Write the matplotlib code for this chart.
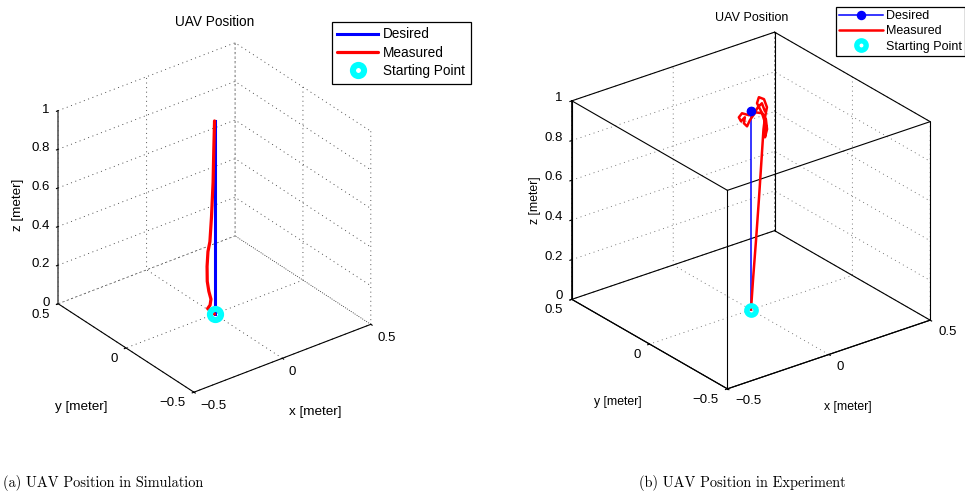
import itertools
import numpy as np
import matplotlib
matplotlib.use("Agg")
import matplotlib.pyplot as plt
from matplotlib.ticker import NullFormatter
from matplotlib.legend_handler import HandlerLine2D
from mpl_toolkits.mplot3d import proj3d

W, H = 965, 503
plt.rcParams["font.family"] = ["Liberation Sans", "DejaVu Sans"]
plt.rcParams["lines.scale_dashes"] = False

# ---- axes ticks -------------------------------------------------------------
x_ticks = [-0.5, 0.0, 0.5]
y_ticks = [-0.5, 0.0, 0.5]
z_ticks = [0.0, 0.2, 0.4, 0.6, 0.8, 1.0]
x_lim = (-0.5, 0.5)
y_lim = (-0.5, 0.5)
z_lim = (0.0, 1.0)

start_point = [0.0, 0.0, 0.0]

# ---- (a) simulation ---------------------------------------------------------
sim_desired_x = [0.0, 0.0]
sim_desired_y = [0.0, 0.0]
sim_desired_z = [0.0, 1.0]

sim_measured_x = [0.000, -0.039, -0.025, -0.020, -0.032, -0.041, -0.042,
                  -0.037, -0.026, -0.017, -0.008, -0.004, 0.000, 0.000]
sim_measured_y = [0.000, 0.000, 0.000, 0.000, 0.000, 0.000, 0.000,
                  0.000, 0.000, 0.000, 0.000, 0.000, 0.000, 0.000]
sim_measured_z = [0.000, 0.042, 0.055, 0.084, 0.129, 0.184, 0.261,
                  0.336, 0.384, 0.509, 0.685, 0.853, 0.990, 1.000]

# ---- (b) experiment ---------------------------------------------------------
exp_desired_x = [0.0, 0.0]
exp_desired_y = [0.0, 0.0]
exp_desired_z = [0.0, 1.0]

exp_measured_x = [0.000, 0.010, 0.025, 0.039, 0.052, 0.070, 0.086, 0.114,
                  0.127, 0.111, 0.094, 0.085, 0.078, 0.060, 0.042, 0.078,
                  0.088, 0.060, 0.026, 0.004, -0.017, -0.021, 0.002, -0.012,
                  -0.008, 0.012, 0.047, 0.086, 0.109, 0.097]
exp_measured_y = [0.000, 0.000, 0.000, 0.000, 0.000, 0.011, 0.022, 0.046,
                  0.082, 0.094, 0.084, 0.046, 0.006, -0.025, -0.035, 0.006,
                  0.044, 0.053, 0.046, 0.063, 0.056, 0.037, 0.042, 0.030,
                  0.015, 0.023, 0.042, 0.068, 0.072, 0.037]
exp_measured_z = [0.000, 0.148, 0.345, 0.542, 0.740, 0.880, 0.930, 0.960,
                  0.980, 0.990, 0.970, 0.950, 0.930, 0.900, 0.870, 0.900,
                  0.940, 0.950, 0.950, 0.960, 0.950, 0.940, 0.950, 0.930,
                  0.920, 0.940, 0.950, 0.960, 0.970, 0.950]


def fx(px):
    return px / W


def fy(py):
    return 1 - py / H


def fmt(v):
    return f"{v:g}".replace("-", "\u2212")


class EndMarkerHandler(HandlerLine2D):
    """Legend line with its marker drawn near the right end."""
    def get_xdata(self, legend, xdescent, ydescent, width, height, fontsize):
        xdata, _ = super().get_xdata(legend, xdescent, ydescent, width, height, fontsize)
        return xdata, np.array([-xdescent + 0.78 * width])


def make_axes(fig, elev, aspect, grid_color, zline_color):
    ax = fig.add_axes([0.1, 0.1, 0.4, 0.4 * W / H], projection="3d")
    ax.set_proj_type("ortho")
    ax.view_init(elev=elev, azim=-127.5)
    ax.set_box_aspect(aspect)
    ax.set_xlim(*x_lim)
    ax.set_ylim(*y_lim)
    ax.set_zlim(*z_lim)
    ax.set_xticks(x_ticks)
    ax.set_yticks(y_ticks)
    ax.set_zticks(z_ticks)
    ax.computed_zorder = False
    for axis in (ax.xaxis, ax.yaxis, ax.zaxis):
        axis.set_pane_color((1, 1, 1, 0))
        axis.pane.set_edgecolor("none")
        axis.line.set_color("k")
        axis.line.set_linewidth(0.8)
        axis._axinfo["grid"].update(color=grid_color, linewidth=0.6,
                                    linestyle=(0, (0.7, 2.6)))
        axis._axinfo["tick"].update(inward_factor=0.12, outward_factor=0.0)
        axis.set_major_formatter(NullFormatter())
        axis.set_tick_params(labelbottom=False)
        axis.label.set_visible(False)
        axis.offsetText.set_visible(False)
    ax.zaxis.line.set_color(zline_color)
    ax.zaxis.line.set_linewidth(1.2)
    ax.grid(True)
    return ax


def to_pixels(ax, xs, ys, zs):
    """Project 3D data points to figure pixels (origin bottom-left)."""
    px, py, _ = proj3d.proj_transform(np.asarray(xs, float), np.asarray(ys, float),
                                      np.asarray(zs, float), ax.M)
    return ax.transData.transform(np.column_stack([px, py]))


def place_cube(ax, left, right, top, bottom):
    """Scale and shift the 3D axes so the limit cube spans the given pixel box."""
    fig = ax.figure
    fig.canvas.draw()
    gx, gy, gz = np.meshgrid(ax.get_xlim(), ax.get_ylim(), ax.get_zlim())
    disp = to_pixels(ax, gx.ravel(), gy.ravel(), gz.ravel())
    bb = ax.get_position().transformed(fig.transFigure)
    side = bb.width
    cx, cy = bb.x0 + bb.width / 2, bb.y0 + bb.height / 2
    u = (disp[:, 0] - cx) / side
    v = (disp[:, 1] - cy) / side
    new_side = 0.5 * ((right - left) / (u.max() - u.min())
                      + (bottom - top) / (v.max() - v.min()))
    tcx = (left + right) / 2
    tcy = H - (top + bottom) / 2
    ncx = tcx - new_side * (u.max() + u.min()) / 2
    ncy = tcy - new_side * (v.max() + v.min()) / 2
    ax.set_position([(ncx - new_side / 2) / W, (ncy - new_side / 2) / H,
                     new_side / W, new_side / H])
    fig.canvas.draw()


def tick_labels(ax, offs, size):
    """Write tick values next to the projected tick positions."""
    fig = ax.figure
    x0, y0, z0 = x_lim[0], y_lim[0], z_lim[0]
    y1 = y_lim[1]
    groups = (
        ("x", x_ticks, (x_ticks, [y0] * len(x_ticks), [z0] * len(x_ticks)), "left"),
        ("y", y_ticks, ([x0] * len(y_ticks), y_ticks, [z0] * len(y_ticks)), "right"),
        ("z", z_ticks, ([x0] * len(z_ticks), [y1] * len(z_ticks), z_ticks), "right"),
    )
    for key, vals, pts, ha in groups:
        dx, dy = offs[key]
        for v, (px, py) in zip(vals, to_pixels(ax, *pts)):
            fig.text((px + dx) / W, (py + dy) / H, fmt(v), ha=ha, va="center",
                     fontsize=size)


def box_edges(ax):
    """Outline all twelve edges of the axis-limit box."""
    corners = list(itertools.product(x_lim, y_lim, z_lim))
    for a, b in itertools.combinations(corners, 2):
        if sum(p != q for p, q in zip(a, b)) == 1:
            ax.plot([a[0], b[0]], [a[1], b[1]], [a[2], b[2]], color="k",
                    lw=0.8, zorder=2)


fig = plt.figure(figsize=(W / 100, H / 100), dpi=100)
fig.patch.set_facecolor("white")

# ============================ (a) simulation ================================
ax1 = make_axes(fig, 30, (1, 1, 1), "0.2", "0.35")
d1, = ax1.plot(sim_desired_x, sim_desired_y, sim_desired_z, color="#0000ff",
               lw=2.2, zorder=3)
m1, = ax1.plot(sim_measured_x, sim_measured_y, sim_measured_z, color="#ff0000",
               lw=2.3, solid_joinstyle="round", solid_capstyle="round", zorder=4)
s1, = ax1.plot([start_point[0]], [start_point[1]], [start_point[2]], ls="none",
               marker="o", ms=8.0, mew=4.4, mec="#00ffff", mfc="none", zorder=5)
place_cube(ax1, 58, 371, 43, 392)
tick_labels(ax1, {"x": (6.5, -13.5), "y": (-8.5, -11), "z": (-8.5, 1)}, 9.5)

fig.text(fx(215), fy(22), "UAV Position", ha="center", va="center", fontsize=9.8)
fig.text(fx(18), fy(205), "z [meter]", ha="center", va="center", rotation=90, fontsize=9.7)
fig.text(fx(81), fy(407), "y [meter]", ha="center", va="center", fontsize=9.7)
fig.text(fx(315), fy(412), "x [meter]", ha="center", va="center", fontsize=9.7)

leg1 = fig.legend([d1, m1, s1], ["Desired", "Measured", "Starting Point"],
                  loc="upper left", bbox_to_anchor=(fx(332), fy(22)),
                  bbox_transform=fig.transFigure, borderaxespad=0,
                  fancybox=False, edgecolor="k", framealpha=1, fontsize=9.8,
                  borderpad=0.4, labelspacing=0.32, handlelength=3.0,
                  handletextpad=0.37, numpoints=1)
leg1.get_frame().set_linewidth(0.9)

# ============================ (b) experiment ================================
ax2 = make_axes(fig, 26.2, (1.155, 1.155, 1), "0.4", "k")
box_edges(ax2)
d2, = ax2.plot(exp_desired_x, exp_desired_y, exp_desired_z, color="#0000ff",
               lw=1.1, marker="o", ms=5.8, markevery=[len(exp_desired_x) - 1],
               zorder=3)
m2, = ax2.plot(exp_measured_x, exp_measured_y, exp_measured_z, color="#ff0000",
               lw=1.8, solid_joinstyle="round", solid_capstyle="round", zorder=4)
ax2.plot(exp_desired_x[-1:], exp_desired_y[-1:], exp_desired_z[-1:], ls="none",
         marker="o", ms=5.8, color="#0000ff", zorder=6)
s2, = ax2.plot([start_point[0]], [start_point[1]], [start_point[2]], ls="none",
               marker="o", ms=6.75, mew=3.85, mec="#00ffff", mfc="none", zorder=5)

place_cube(ax2, 572, 930, 32, 389)
tick_labels(ax2, {"x": (8.0, -12.3), "y": (-8.7, -11), "z": (-9, 3)}, 9.5)

fig.text(fx(752), fy(18), "UAV Position", ha="center", va="center", fontsize=9)
fig.text(fx(535), fy(200), "z [meter]", ha="center", va="center", rotation=90, fontsize=8.8)
fig.text(fx(618), fy(402), "y [meter]", ha="center", va="center", fontsize=8.8)
fig.text(fx(848), fy(407), "x [meter]", ha="center", va="center", fontsize=8.8)

leg2 = fig.legend([d2, m2, s2], ["Desired", "Measured", "Starting Point"],
                  loc="upper left", bbox_to_anchor=(fx(836), fy(7)),
                  bbox_transform=fig.transFigure, borderaxespad=0,
                  fancybox=False, edgecolor="k", framealpha=1, fontsize=9,
                  borderpad=0.25, labelspacing=0.26, handlelength=3.5,
                  handletextpad=0.25, numpoints=1,
                  handler_map={d2: EndMarkerHandler()})
leg2.get_frame().set_linewidth(0.9)

# ============================ captions ======================================
fig.text(fx(103.5), fy(483), "(a) UAV Position in Simulation", ha="center",
         va="center", fontsize=10.4, family="cmr10")
fig.text(fx(742), fy(483), "(b) UAV Position in Experiment", ha="center",
         va="center", fontsize=10.4, family="cmr10")

fig.savefig("out.png", dpi=100, facecolor="white")
